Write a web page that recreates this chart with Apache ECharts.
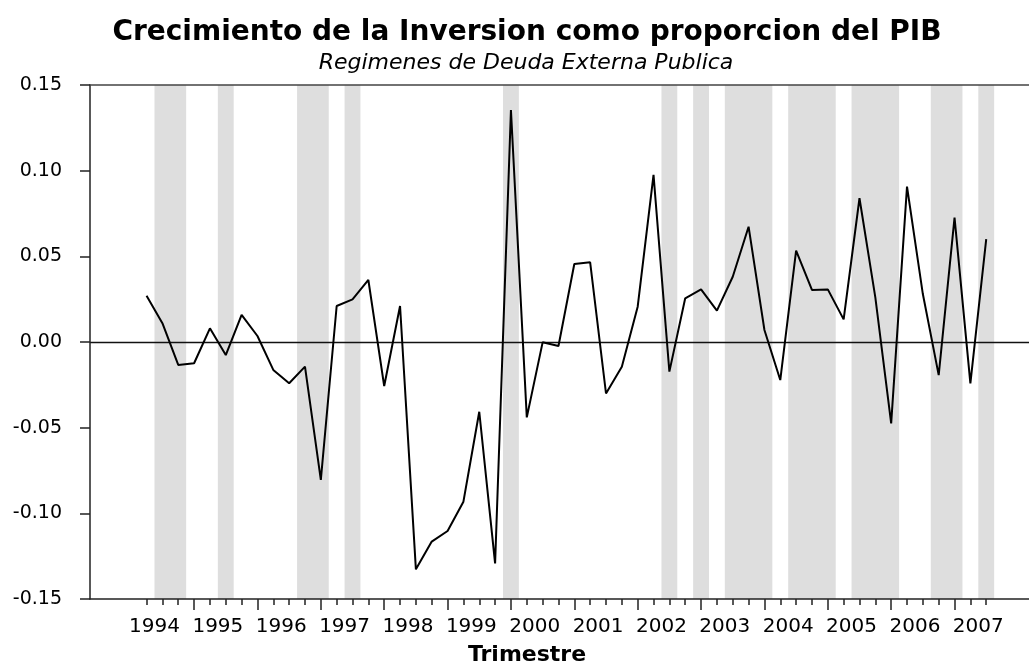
<!DOCTYPE html>
<html>
<head>
<meta charset="utf-8">
<script src="https://cdn.jsdelivr.net/npm/echarts@6/dist/echarts.min.js"></script>
<style>html,body{margin:0;padding:0;background:#fff;}#c{width:1029px;height:664px;}</style>
</head>
<body>
<div id="c"></div>
<script>
// Quarters (1994Q2 .. 2007Q3)
const quarters = ['1994Q2','1994Q3','1994Q4','1995Q1','1995Q2','1995Q3','1995Q4','1996Q1','1996Q2','1996Q3',
  '1996Q4','1997Q1','1997Q2','1997Q3','1997Q4','1998Q1','1998Q2','1998Q3','1998Q4','1999Q1',
  '1999Q2','1999Q3','1999Q4','2000Q1','2000Q2','2000Q3','2000Q4','2001Q1','2001Q2','2001Q3',
  '2001Q4','2002Q1','2002Q2','2002Q3','2002Q4','2003Q1','2003Q2','2003Q3','2003Q4','2004Q1',
  '2004Q2','2004Q3','2004Q4','2005Q1','2005Q2','2005Q3','2005Q4','2006Q1','2006Q2','2006Q3',
  '2006Q4','2007Q1','2007Q2','2007Q3'];
// Growth of investment as share of GDP
const growth = [0.027, 0.011, -0.0134, -0.0124, 0.008, -0.0076, 0.0158, 0.0035, -0.0163, -0.0241,
  -0.0144, -0.0805, 0.021, 0.0249, 0.0362, -0.0257, 0.021, -0.1327, -0.1165, -0.1103,
  -0.0932, -0.0407, -0.1292, 0.1354, -0.044, -0.0002, -0.0023, 0.0455, 0.0465, -0.030,
  -0.0144, 0.0206, 0.0975, -0.0173, 0.0255, 0.0307, 0.0183, 0.0381, 0.0673, 0.007,
  -0.0222, 0.0533, 0.0304, 0.0307, 0.0132, 0.0839, 0.026, -0.0475, 0.0907, 0.028,
  -0.0193, 0.0726, -0.0241, 0.060];
// Public external debt regime (1 = shaded)
const regime = [0,1,1,0,0,1,0,0,0,0,
  1,1,0,1,0,0,0,0,0,0,
  0,0,0,1,0,0,0,0,0,0,
  0,0,0,1,0,1,0,1,1,1,
  0,1,1,1,0,1,1,1,0,0,
  1,1,0,1];
const years = [1994,1995,1996,1997,1998,1999,2000,2001,2002,2003,2004,2005,2006,2007];
const yTicks = [-0.15,-0.10,-0.05,0.00,0.05,0.10,0.15];

const titleText = 'Crecimiento de la Inversion como proporcion del PIB';
const subtitleText = 'Regimenes de Deuda Externa Publica';
const xName = 'Trimestre';

// build derived structures
const lineData = growth.map((v, i) => [i, v]);
const quarterTicks = quarters.map((q, i) => i);
const yearStartIdx = [], yearMidIdx = [];
quarters.forEach((q, i) => { if (q.endsWith('Q1')) yearStartIdx.push(i); });
years.forEach(y => {
  const idx1 = quarters.indexOf(y + 'Q1');
  const base = idx1 >= 0 ? idx1 : quarters.indexOf(y + 'Q2') - 1;
  yearMidIdx.push(base + 1.5);
});
const bands = [];
let start = null;
regime.forEach((r, i) => {
  if (r && start === null) start = i;
  if ((!r || i === regime.length - 1) && start !== null) {
    const end = r ? i : i - 1;
    bands.push([{ xAxis: start - 0.5 }, { xAxis: end + 0.5 }]);
    start = null;
  }
});

const FONT = '"DejaVu Sans", sans-serif';
const xMin = -3.57, xMax = 55.7;

const chart = echarts.init(document.getElementById('c'), null, { renderer: 'canvas' });
chart.setOption({
  animation: false,
  backgroundColor: '#fff',
  grid: { left: 90, right: 0, top: 85, height: 514, containLabel: false },
  graphic: [
    { type: 'text', x: 527, y: 33, style: { text: titleText, font: 'bold 28px ' + FONT, fill: '#000', textAlign: 'center', textVerticalAlign: 'middle' } },
    { type: 'text', x: 526, y: 63, style: { text: subtitleText, font: 'italic 22px ' + FONT, fill: '#000', textAlign: 'center', textVerticalAlign: 'middle' } },
    { type: 'text', x: 527, y: 655, style: { text: xName, font: 'bold 22px ' + FONT, fill: '#000', textAlign: 'center', textVerticalAlign: 'middle' } }
  ],
  xAxis: [
    {
      type: 'value', min: xMin, max: xMax, position: 'bottom', z: 10,
      axisLine: { show: true, onZero: false, lineStyle: { color: '#222', width: 1.5 } },
      axisTick: { show: true, customValues: quarterTicks, length: 6, lineStyle: { color: '#222', width: 1.5 } },
      axisLabel: { show: false },
      splitLine: { show: false }
    },
    {
      type: 'value', min: xMin, max: xMax, position: 'bottom', z: 10,
      axisLine: { show: false, onZero: false },
      axisTick: { show: true, customValues: yearStartIdx, length: 11, lineStyle: { color: '#222', width: 1.5 } },
      axisLabel: {
        show: true, customValues: yearMidIdx, margin: 18,
        fontFamily: FONT, fontSize: 20, color: '#000',
        formatter: v => String(years[yearMidIdx.findIndex(m => Math.abs(m - v) < 1e-6)])
      },
      splitLine: { show: false }
    },
    {
      type: 'value', min: xMin, max: xMax, position: 'top', z: 10,
      axisLine: { show: true, onZero: false, lineStyle: { color: '#444', width: 1.5 } },
      axisTick: { show: false }, axisLabel: { show: false }, splitLine: { show: false }
    }
  ],
  yAxis: {
    type: 'value', min: -0.15, max: 0.15, interval: 0.05, z: 10,
    axisLine: { show: true, onZero: false, lineStyle: { color: '#222', width: 1.5 } },
    axisTick: { show: true, length: 10, lineStyle: { color: '#222', width: 1.5 } },
    axisLabel: { margin: 28, fontFamily: FONT, fontSize: 19, color: '#000', formatter: v => v.toFixed(2) },
    splitLine: { show: false }
  },
  series: [
    {
      name: 'regimen', type: 'line', data: [], z: 1, xAxisIndex: 0,
      markArea: { silent: true, itemStyle: { color: '#dedede' }, data: bands }
    },
    {
      name: 'crecimiento', type: 'line', data: lineData, xAxisIndex: 0, z: 5,
      showSymbol: false, symbol: 'none',
      lineStyle: { color: '#000', width: 2 },
      markLine: { silent: true, symbol: 'none', label: { show: false },
        lineStyle: { color: '#111', width: 1.3, type: 'solid' }, data: [{ yAxis: 0 }] }
    }
  ]
});
</script>
</body>
</html>
